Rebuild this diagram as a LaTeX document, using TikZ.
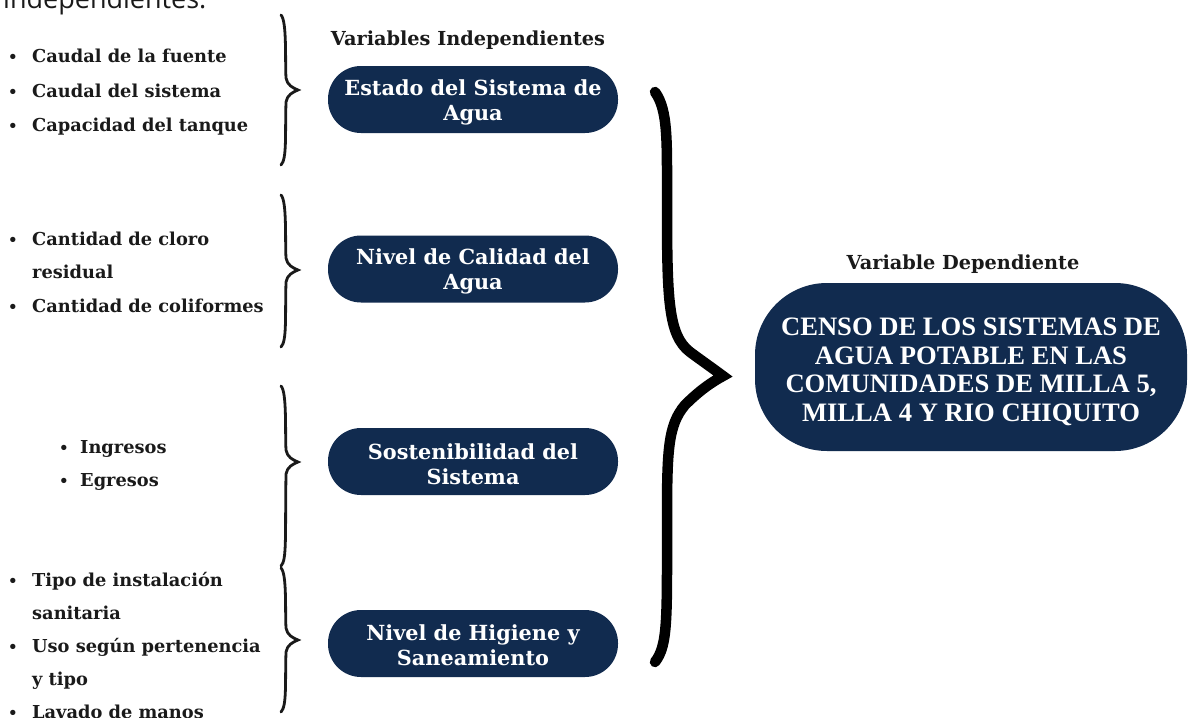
\documentclass[tikz,border=0pt]{standalone}
\usepackage{fontspec}
\setmainfont{DejaVu Serif}
\newfontfamily\opensans{Open Sans}
\newfontfamily\libserif{Liberation Serif}
\definecolor{navy}{HTML}{112B4F}
\definecolor{ink}{HTML}{1A1A1A}
\tikzset{
  item/.style={anchor=base west, inner sep=0pt, text=ink, font=\bfseries\fontsize{17.8}{20}\selectfont},
  bul/.style={anchor=base, inner sep=0pt, text=ink, font=\bfseries\fontsize{15}{18}\selectfont},
  varbox/.style={fill=navy, rounded corners=33pt, minimum width=290pt, minimum height=67pt, inner sep=0pt},
  vartext/.style={text=white, align=center, font=\bfseries\fontsize{20.8}{25}\selectfont, inner sep=0pt},
  bigbox/.style={fill=navy, rounded corners=72pt, minimum width=432pt, minimum height=168pt, inner sep=0pt},
  bigtext/.style={text=white, align=center, font=\libserif\bfseries\fontsize{26.6}{28.5}\selectfont, inner sep=0pt},
  head/.style={text=ink, font=\bfseries\fontsize{19.3}{22}\selectfont, inner sep=0pt},
  smallbrace/.style={draw=ink, line width=2.8pt, line cap=round},
  bigbrace/.style={draw=black, line width=10.5pt, line cap=round},
}
\newcommand\cbrace[4]{%
  \draw[smallbrace] ({#1},{#2}) .. controls ({#1+6},{#2+6}) and ({#1+4},{#3-30}) .. ({#1+5},{#3-12})
    .. controls ({#1+6},{#3-5}) and ({#1+12},{#3-2}) .. ({#1+17},{#3})
    .. controls ({#1+12},{#3+2}) and ({#1+6},{#3+5}) .. ({#1+5},{#3+12})
    .. controls ({#1+4},{#4-30}) and ({#1+6},{#4-6}) .. ({#1},{#4});}
\begin{document}
\begin{tikzpicture}[x=1pt,y=-1pt]
\useasboundingbox (0,0) rectangle (1190,717);
\clip (0,0) rectangle (1190,717);
\fill[white] (0,0) rectangle (1190,717);

\node[anchor=base west, inner sep=0pt, text=ink, font=\opensans\fontsize{27}{30}\selectfont] (top) at (3,9) {independientes.};

% headings
\node[head] (hind) at (468,40) {Variables Independientes};
\node[head] (hdep) at (963,264) {Variable Dependiente};

% boxes
\node[varbox] (v1) at (473,99.5) {};
\node[vartext] (t1) at (473,102) {Estado del Sistema de\\Agua};
\node[varbox] (v2) at (473,269) {};
\node[vartext] (t2) at (473,271.5) {Nivel de Calidad del\\Agua};
\node[varbox] (v3) at (473,461.5) {};
\node[vartext] (t3) at (473,464) {Sostenibilidad del\\Sistema};
\node[varbox] (v4) at (473,643.5) {};
\node[vartext] (t4) at (473,645) {Nivel de Higiene y\\Saneamiento};
\node[bigbox] (dep) at (971,367) {};
\node[bigtext] (deptext) at (971,372) {CENSO DE LOS SISTEMAS DE\\AGUA POTABLE EN LAS\\COMUNIDADES DE MILLA 5,\\MILLA 4 Y RIO CHIQUITO};

% group 1
\node[bul] (b11) at (13,63) {•};
\node[item] (i11) at (32,63) {Caudal de la fuente};
\node[bul] (b12) at (13,97) {•};
\node[item] (i12) at (32,97) {Caudal del sistema};
\node[bul] (b13) at (13,131) {•};
\node[item] (i13) at (32,131) {Capacidad del tanque};
% group 2
\node[bul] (b21) at (13,245) {•};
\node[item] (i21) at (32,245) {Cantidad de cloro};
\node[item] (i21b) at (32,278) {residual};
\node[bul] (b22) at (13,312) {•};
\node[item] (i22) at (32,312) {Cantidad de coliformes};
% group 3
\node[bul] (b31) at (64,453) {•};
\node[item] (i31) at (80,453) {Ingresos};
\node[bul] (b32) at (64,486) {•};
\node[item] (i32) at (80,486) {Egresos};
% group 4
\node[bul] (b41) at (13,586) {•};
\node[item] (i41) at (32,586) {Tipo de instalación};
\node[item] (i41b) at (32,619) {sanitaria};
\node[bul] (b42) at (13,652) {•};
\node[item] (i42) at (32,652) {Uso según pertenencia};
\node[item] (i42b) at (32,685) {y tipo};
\node[bul] (b43) at (13,718) {•};
\node[item] (i43) at (32,718) {Lavado de manos};

% small braces
\cbrace{281}{15}{90}{165}
\cbrace{281}{195}{270}{347}
\cbrace{281}{386}{462}{566}
\cbrace{281}{568}{640}{712}

% big brace
\draw[bigbrace] (655,92) .. controls (668,110) and (667,140) .. (667,200)
  .. controls (667,300) and (668,335) .. (690,352)
  .. controls (705,363) and (715,370) .. (723,376)
  .. controls (712,382) and (700,390) .. (685,405)
  .. controls (668,425) and (667,450) .. (667,520)
  .. controls (667,620) and (668,645) .. (655,662);
\end{tikzpicture}
\end{document}
